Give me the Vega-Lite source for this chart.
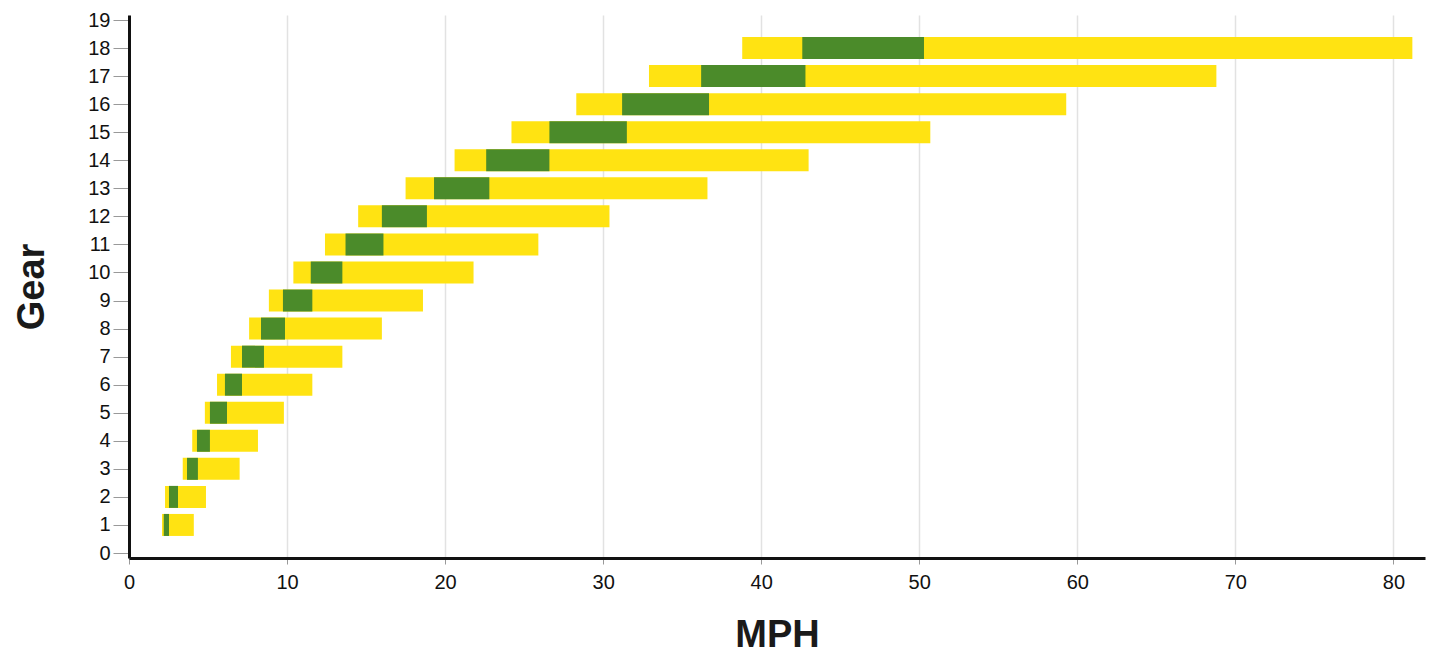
{
  "$schema": "https://vega.github.io/schema/vega-lite/v6.json",
  "width": 1296,
  "height": 543,
  "autosize": {"type": "none"},
  "padding": {"left": 129, "top": 15, "right": 12, "bottom": 97},
  "background": "white",
  "data": {"values": [
    {"gear": 1, "lo": 2.09, "hi": 4.1, "glo": 2.2, "ghi": 2.53},
    {"gear": 2, "lo": 2.28, "hi": 4.87, "glo": 2.53, "ghi": 3.1},
    {"gear": 3, "lo": 3.4, "hi": 7.0, "glo": 3.67, "ghi": 4.36},
    {"gear": 4, "lo": 4.0, "hi": 8.16, "glo": 4.3, "ghi": 5.12},
    {"gear": 5, "lo": 4.8, "hi": 9.8, "glo": 5.12, "ghi": 6.2},
    {"gear": 6, "lo": 5.57, "hi": 11.6, "glo": 6.07, "ghi": 7.15},
    {"gear": 7, "lo": 6.45, "hi": 13.5, "glo": 7.15, "ghi": 8.54},
    {"gear": 8, "lo": 7.6, "hi": 16.0, "glo": 8.35, "ghi": 9.87},
    {"gear": 9, "lo": 8.85, "hi": 18.6, "glo": 9.74, "ghi": 11.6},
    {"gear": 10, "lo": 10.4, "hi": 21.8, "glo": 11.5, "ghi": 13.5},
    {"gear": 11, "lo": 12.4, "hi": 25.9, "glo": 13.7, "ghi": 16.1},
    {"gear": 12, "lo": 14.5, "hi": 30.4, "glo": 16.0, "ghi": 18.85},
    {"gear": 13, "lo": 17.5, "hi": 36.6, "glo": 19.3, "ghi": 22.8},
    {"gear": 14, "lo": 20.6, "hi": 43.0, "glo": 22.6, "ghi": 26.6},
    {"gear": 15, "lo": 24.2, "hi": 50.7, "glo": 26.6, "ghi": 31.5},
    {"gear": 16, "lo": 28.3, "hi": 59.3, "glo": 31.2, "ghi": 36.7},
    {"gear": 17, "lo": 32.9, "hi": 68.8, "glo": 36.2, "ghi": 42.8},
    {"gear": 18, "lo": 38.8, "hi": 81.2, "glo": 42.6, "ghi": 50.3}
  ]},
  "config": {
    "view": {"stroke": null},
    "font": "Liberation Sans",
    "axisY": {"tickCount": 20, "labelOverlap": false}
  },
  "encoding": {
    "y": {"field": "gear", "type": "quantitative",
      "scale": {"domain": [0, 19], "nice": false},
      "axis": {
        "title": "Gear", "titleFontSize": 38, "titleFontWeight": "bold", "titleColor": "#1a1a1a",
        "titlePadding": 36,
        "tickCount": 20,
        "tickMinStep": 1,
        "labelFontSize": 20, "labelColor": "#111", "labelPadding": 3,
        "labelOverlap": false, "labelFlush": false, "labelBound": false,
        "domainColor": "#111", "domainWidth": 3,
        "tickColor": "#999", "tickSize": 16,
        "grid": false
      }}
  },
  "layer": [
    {
      "mark": {"type": "bar", "color": "#FFE312", "size": 22},
      "encoding": {
        "x": {"field": "lo", "type": "quantitative",
          "scale": {"domain": [0, 82], "nice": false, "zero": false},
          "axis": {
            "title": "MPH", "titleFontSize": 38, "titleFontWeight": "bold", "titleColor": "#1a1a1a",
            "titlePadding": 24,
            "tickCount": 9,
            "labelFontSize": 20, "labelColor": "#111", "labelPadding": 8,
            "labelOverlap": false, "labelFlush": false,
            "domainColor": "#111", "domainWidth": 3,
            "tickColor": "#999", "tickSize": 6,
            "grid": true, "gridColor": "#e2e2e2", "gridWidth": 1.5
          }},
        "x2": {"field": "hi"}
      }
    },
    {
      "mark": {"type": "bar", "color": "#4B8B2A", "size": 22},
      "encoding": {
        "x": {"field": "glo", "type": "quantitative"},
        "x2": {"field": "ghi"}
      }
    }
  ]
}
